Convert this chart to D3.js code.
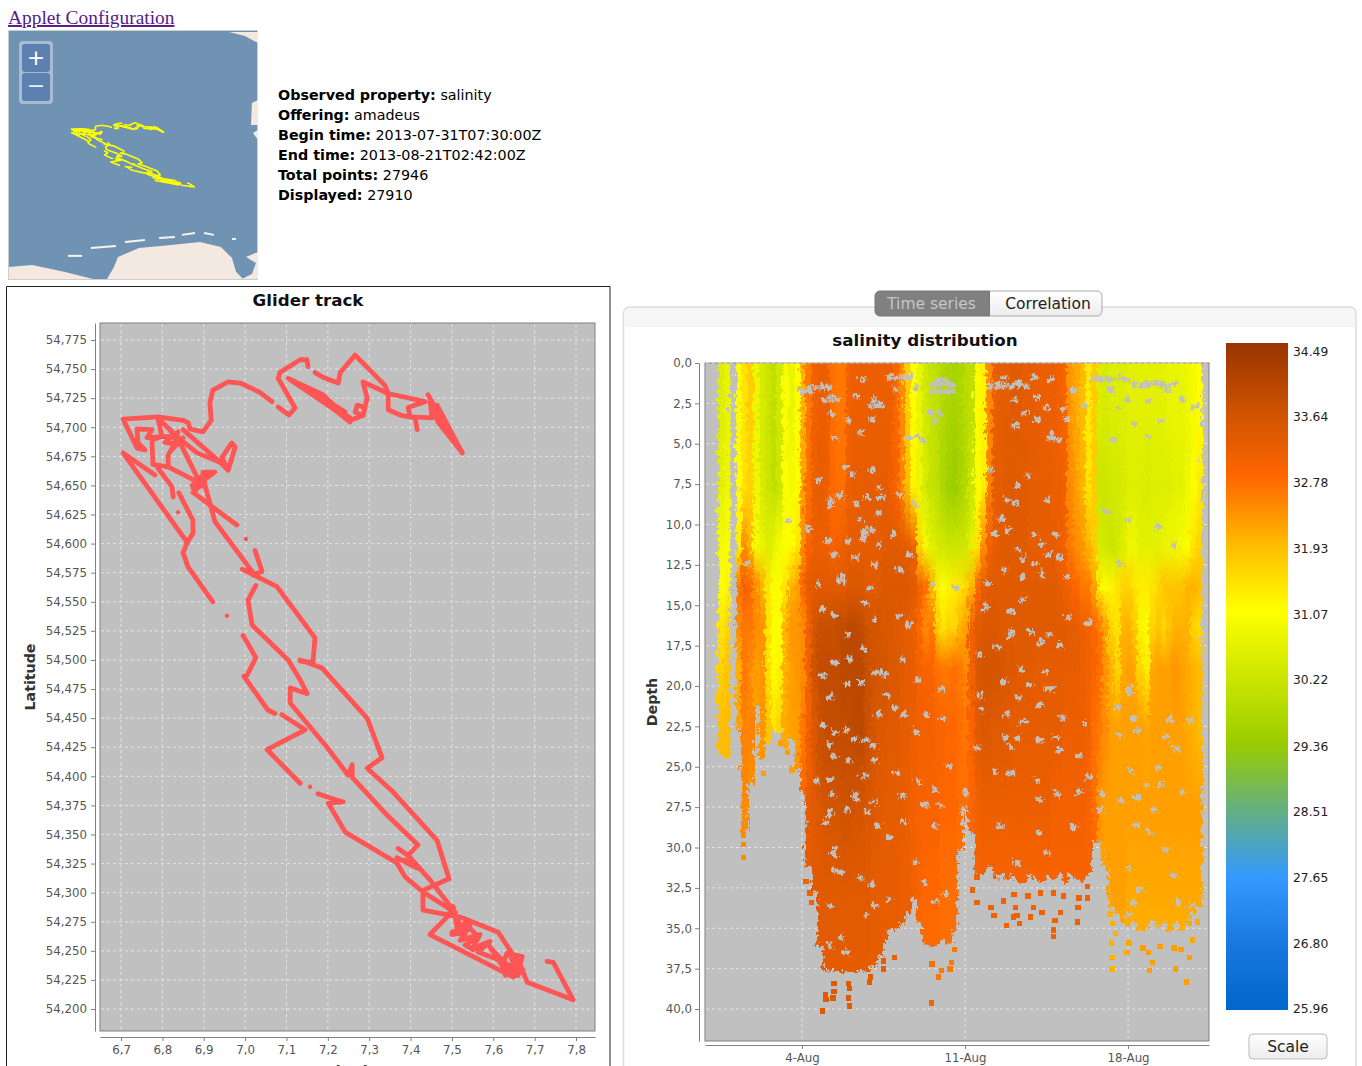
<!DOCTYPE html>
<html><head><meta charset="utf-8"><script src="https://cdn.jsdelivr.net/npm/d3@7"></script>
<style>html,body{margin:0;padding:0;background:#fff;overflow:hidden}svg{display:block;font-family:"DejaVu Sans",sans-serif}</style>
</head><body><svg id="c" width="1362" height="1066"></svg>
<script>
// ---------- metadata ----------
const infoLabels=["Observed property:","Offering:","Begin time:","End time:","Total points:","Displayed:"];
const infoValues=["salinity","amadeus","2013-07-31T07:30:00Z","2013-08-21T02:42:00Z","27946","27910"];
// ---------- glider track [lon,lat] ----------
const trackEast=[[7.525,54.678],[7.467,54.704],[7.447,54.723],[7.452,54.708],[7.399,54.709],[7.394,54.717],[7.435,54.722],[7.346,54.729],[7.338,54.736],[7.266,54.762],[7.230,54.747],[7.225,54.738],[7.188,54.743],[7.169,54.747]];
const trackWedgeEast=[[7.525,54.678],[7.464,54.719],[7.508,54.6865],[7.442,54.728],[7.483,54.702],[7.525,54.678]];
const trackLoop=[[7.416,54.698],[7.411,54.708],[7.375,54.7105],[7.346,54.715],[7.346,54.729],[7.285,54.739],[7.295,54.725],[7.285,54.710],[7.266,54.713],[7.271,54.719],[7.29,54.717],[7.285,54.710],[7.254,54.706],[7.104,54.742],[7.188,54.728],[7.254,54.706]];
const trackWedgeWest=[[7.109,54.741],[7.254,54.708],[7.133,54.736],[7.242,54.713],[7.157,54.732],[7.254,54.7045],[7.181,54.727],[7.23,54.713]];
const trackHook=[[7.152,54.752],[7.15,54.758],[7.133,54.758],[7.084,54.747],[7.08,54.742],[7.121,54.7166],[7.106,54.7105],[7.08,54.7174]];
const trackWest=[[7.065,54.722],[7.036,54.730],[6.988,54.738],[6.959,54.739],[6.922,54.732],[6.915,54.721],[6.918,54.706],[6.898,54.696],[6.867,54.6985],[6.862,54.704],[6.85,54.706],[6.789,54.709],[6.705,54.707],[6.739,54.682],[6.758,54.6805],[6.741,54.6865],[6.739,54.6985],[6.775,54.698],[6.763,54.691],[6.799,54.692],[6.835,54.692],[6.789,54.708],[6.799,54.692],[6.775,54.689],[6.777,54.668],[6.814,54.666],[6.814,54.676],[6.838,54.691],[6.884,54.678],[6.939,54.670],[6.959,54.663],[6.944,54.674],[6.968,54.6865],[6.976,54.683],[6.959,54.663]];
const trackBlobA=[[6.818,54.698],[6.843,54.685],[6.806,54.687],[6.838,54.696],[6.823,54.6805],[6.85,54.691]];
const trackBlobB=[[6.872,54.650],[6.903,54.656],[6.881,54.646],[6.915,54.661],[6.886,54.656]];
const trackWestB=[[6.85,54.698],[6.939,54.670]];
const trackWestC=[[6.835,54.692],[6.855,54.678],[6.891,54.652],[6.927,54.6615],[6.898,54.6615],[6.903,54.650],[6.874,54.648],[6.891,54.652],[6.814,54.666]];
const trackWestD=[[6.789,54.665],[6.823,54.649],[6.826,54.640]];
const trackEdge=[[6.782,54.659],[6.705,54.678],[6.86,54.601],[6.874,54.609],[6.874,54.620],[6.84,54.6435]];
const trackEdgeB=[[6.86,54.601],[6.85,54.592],[6.862,54.580],[6.922,54.550]];
const trackCross=[[6.874,54.644],[6.98,54.616]];
const trackMid=[[6.903,54.650],[6.927,54.619],[7.019,54.575],[6.993,54.578],[7.077,54.563],[7.169,54.519],[7.164,54.498],[7.133,54.499]];
const trackMidB=[[7.019,54.573],[7.041,54.576],[7.024,54.594]];
const trackInner=[[7.026,54.564],[7.007,54.5515],[7.017,54.530],[7.104,54.500],[7.133,54.483],[7.15,54.471],[7.109,54.476],[7.109,54.463],[7.198,54.425],[7.249,54.401],[7.259,54.410],[7.259,54.399],[7.338,54.3685],[7.418,54.341],[7.394,54.332],[7.37,54.338]];
const trackInnerB=[[7.394,54.332],[7.447,54.311],[7.508,54.283]];
const trackLow=[[6.995,54.521],[7.026,54.502],[7.005,54.487],[6.997,54.486],[7.055,54.457],[7.072,54.454]];
const trackLowB=[[7.089,54.453],[7.145,54.440],[7.053,54.423],[7.133,54.394]];
const trackLowC=[[7.176,54.385],[7.217,54.380],[7.237,54.378],[7.201,54.377],[7.242,54.352],[7.367,54.3255],[7.387,54.3135],[7.43,54.3006],[7.508,54.283]];
const trackShort=[[7.367,54.330],[7.416,54.321],[7.387,54.328]];
const trackOuter=[[7.133,54.500],[7.186,54.493],[7.295,54.450],[7.331,54.416],[7.295,54.407],[7.358,54.3865],[7.464,54.345],[7.493,54.312],[7.43,54.302],[7.43,54.285],[7.52,54.279],[7.612,54.266],[7.672,54.2335],[7.648,54.2275],[7.447,54.264],[7.488,54.279],[7.503,54.288],[7.515,54.265],[7.5,54.264],[7.532,54.274],[7.563,54.262],[7.532,54.255],[7.551,54.251],[7.585,54.257],[7.624,54.236],[7.658,54.229],[7.67,54.245],[7.633,54.248],[7.624,54.2395],[7.67,54.2335],[7.682,54.223],[7.793,54.208],[7.745,54.240],[7.73,54.241]];
const trackCluster=[[7.508,54.281],[7.532,54.264],[7.5,54.266],[7.544,54.272],[7.52,54.259],[7.568,54.264],[7.549,54.252],[7.592,54.258],[7.563,54.249],[7.616,54.242],[7.597,54.251],[7.641,54.235],[7.616,54.2335],[7.66,54.229],[7.641,54.246],[7.665,54.238],[7.629,54.229]];
const trackDots=[[6.838,54.627],[6.956,54.538],[7.002,54.604],[7.157,54.391]];
const trackSegments=[trackEast,trackWedgeEast,trackLoop,trackWedgeWest,trackHook,trackWest,trackBlobA,trackBlobB,trackWestB,trackWestC,trackWestD,trackEdge,trackEdgeB,trackCross,trackMid,trackMidB,trackInner,trackInnerB,trackLow,trackLowB,trackLowC,trackShort,trackOuter,trackCluster];
// ---------- mini map land [lon,lat] ----------
const landFrisia=[[7.019,53.415],[7.081,53.519],[7.117,53.605],[7.303,53.682],[7.587,53.708],[7.844,53.734],[8.03,53.691],[8.128,53.596],[8.164,53.476],[8.226,53.415]];
const landBay=[[8.252,53.605],[8.359,53.648],[8.359,53.407],[8.199,53.407],[8.305,53.458],[8.341,53.553]];
const landWest=[[6.15,53.519],[6.354,53.536],[6.638,53.476],[6.895,53.415],[6.15,53.407]];
const landNorth=[[8.101,55.544],[8.359,55.544],[8.359,55.45],[8.243,55.51]];
const landEastA=[[8.305,54.932],[8.359,54.958],[8.359,54.743],[8.297,54.743]];
const landEastB=[[8.314,54.674],[8.359,54.70],[8.359,54.613]];
const landAreas=[landFrisia,landBay,landWest,landNorth,landEastA,landEastB];
const islands=[[[6.673,53.614],[6.798,53.614]],[[6.877,53.682],[7.099,53.700]],[[7.179,53.734],[7.356,53.751]],[[7.481,53.769],[7.622,53.777]],[[7.685,53.795],[7.8,53.812]],[[7.88,53.812],[7.968,53.795]],[[8.128,53.76],[8.164,53.76]]];
// ---------- salinity field ----------
const binHours=6;
const binStartMs=Date.UTC(2013,6,31,7,30);
const depthEdges=[0,5,10,12.5,15,17.5,20,25,30,35,42];
const columnBottom=[24.0,24.4,0,22.5,29,26,21,24.4,23.5,22.7,
22.7,23.8,23.2,25.0,26.5,31,32.5,36,37.5,37.5,
37.6,37.6,37.6,37.6,37.4,37.6,37.2,36.5,35.8,35,
34.8,34.5,34,33,34.5,36,36,36,35.5,35.8,
35,30,27.5,29,31.5,31.5,31,31.8,31.5,31.8,
31.5,32,32,31.5,31.8,32,31.5,31.8,31.5,32,
31.5,31.8,32,31.5,29.5,29.5,31,33.5,34,34.5,
34.8,34.5,35,35,34.5,35,34.5,35,34.5,35,
34.5,34,33.5];
const sal0to5=[30.5,30.7,null,31.0,31.4,31.7,30.8,30.4,30.2,30.0,
30.3,31.0,30.7,31.0,32.0,32.6,33.0,33.1,33.1,32.7,
32.6,32.6,33.0,33.1,33.1,33.1,33.1,33.1,33.1,33.1,
32.8,32.4,31.7,31.1,30.7,30.3,30.1,30.0,29.8,29.7,
29.6,29.7,29.9,30.0,31.0,31.2,32.4,33.1,33.2,33.2,
33.3,33.3,33.2,33.2,33.2,33.1,33.1,33.1,33.0,32.9,
32.3,32.1,31.9,31.3,31.7,30.5,30.4,30.5,30.5,30.5,
30.6,30.6,30.6,30.6,30.6,30.6,30.6,30.7,30.7,30.7,
30.8,30.9,31.1];
const sal5to10=[30.6,30.8,null,31.1,31.4,31.6,30.8,30.4,30.2,30.0,
30.2,31.0,30.9,31.1,32.2,32.7,33.1,33.2,33.1,32.8,
32.7,32.7,33.1,33.2,33.2,33.2,33.2,33.2,33.2,33.1,
32.9,32.5,31.9,31.2,30.8,30.4,30.1,30.0,29.7,29.5,
29.4,29.6,29.8,30.2,31.0,31.3,32.5,33.2,33.2,33.3,
33.3,33.3,33.3,33.2,33.2,33.2,33.2,33.1,33.1,33.0,
32.4,32.2,32.0,31.4,31.7,30.2,30.2,30.3,30.3,30.4,
30.5,30.5,30.5,30.4,30.5,30.5,30.5,30.5,30.6,30.6,
30.8,31.0,31.3];
const sal10to12=[30.9,31.0,null,31.3,32.4,32.0,30.9,30.7,30.5,30.7,
30.9,31.0,31.1,31.4,32.4,32.9,33.1,33.1,33.1,32.9,
33.0,33.1,33.2,33.2,33.2,33.2,33.2,33.2,33.3,33.3,
33.3,33.3,33.2,33.0,31.6,30.9,30.6,30.4,30.3,30.2,
30.2,30.2,30.3,30.6,31.4,32.4,33.0,33.2,33.3,33.3,
33.3,33.3,33.3,33.2,33.2,33.2,33.2,33.2,33.1,33.0,
32.6,32.4,32.3,32.0,31.7,30.4,30.3,30.2,30.3,30.5,
30.8,30.8,30.6,30.6,30.6,30.6,30.7,30.8,30.8,30.9,
31.0,31.4,31.6];
const sal12to15=[31.0,31.2,null,32.6,33.0,32.8,32.4,32.0,31.4,31.0,
31.0,31.4,32.0,32.2,32.8,33.2,33.3,33.3,33.3,33.3,
33.3,33.3,33.4,33.4,33.4,33.3,33.3,33.3,33.4,33.4,
33.4,33.4,33.4,33.3,33.0,32.7,32.0,31.3,31.0,31.2,
31.3,31.4,31.6,32.0,32.8,33.2,33.3,33.3,33.3,33.3,
33.3,33.3,33.3,33.3,33.3,33.3,33.3,33.3,33.2,33.1,
33.0,32.8,32.6,32.6,32.2,31.3,31.0,31.2,31.4,31.6,
31.6,31.4,31.3,31.3,31.4,31.6,31.8,31.8,31.8,31.8,
32.0,32.0,31.9];
const sal15to17=[31.4,31.6,null,32.4,32.6,32.6,32.4,32.3,31.4,31.0,
31.1,32.0,32.3,32.3,32.4,33.0,33.5,33.7,33.7,33.7,
33.8,33.8,33.9,33.9,33.8,33.6,33.5,33.5,33.4,33.4,
33.3,33.3,33.2,33.1,32.8,32.4,32.6,31.8,31.4,31.6,
31.6,32.0,32.2,33.0,33.3,33.4,33.4,33.4,33.3,33.3,
33.3,33.3,33.3,33.3,33.3,33.3,33.3,33.3,33.3,33.3,
33.2,33.2,33.1,33.0,32.8,32.6,32.2,31.6,31.4,32.0,
32.0,31.7,31.2,31.0,31.6,31.8,31.5,31.8,32.0,32.0,
32.0,31.6,31.5];
const sal17to20=[31.6,31.8,null,32.0,32.6,32.4,32.2,32.3,31.5,31.1,
31.2,32.0,32.2,32.3,32.4,33.0,33.6,33.8,33.8,33.8,
33.8,33.9,33.9,33.9,33.9,33.7,33.6,33.5,33.5,33.4,
33.4,33.3,33.2,33.2,33.0,32.9,32.9,32.7,32.6,32.6,
32.7,32.6,32.4,33.0,33.4,33.5,33.5,33.5,33.5,33.4,
33.4,33.3,33.3,33.3,33.2,33.2,33.2,33.2,33.2,33.2,
33.2,33.2,33.1,33.0,32.9,32.7,32.3,32.0,31.6,32.1,
32.2,32.1,31.6,31.3,32.1,32.2,32.2,32.2,32.3,32.2,
32.1,32.0,31.9];
const sal20to25=[31.9,31.9,null,32.2,32.5,32.5,32.2,32.3,31.8,31.4,
31.6,32.1,32.2,32.2,32.6,33.0,33.4,33.7,33.8,33.8,
33.8,33.8,33.8,33.9,33.9,33.7,33.5,33.4,33.4,33.3,
33.3,33.2,33.2,33.1,33.0,33.0,33.0,32.9,32.9,32.8,
32.8,32.7,32.6,32.9,33.3,33.4,33.4,33.3,33.3,33.3,
33.2,33.2,33.2,33.2,33.2,33.2,33.2,33.2,33.2,33.1,
33.1,33.1,33.1,33.0,32.7,32.6,32.4,32.2,32.2,32.2,
32.2,32.2,32.2,32.1,32.2,32.2,32.2,32.2,32.2,32.2,
32.1,32.0,31.9];
const sal25to30=[null,null,null,null,32.4,32.3,null,null,null,null,
null,null,null,32.4,32.9,33.2,33.3,33.4,33.5,33.5,
33.5,33.6,33.6,33.5,33.5,33.4,33.4,33.3,33.2,33.2,
33.2,33.2,33.1,33.0,32.9,32.9,32.9,32.9,32.8,32.8,
32.8,32.7,32.7,32.8,33.0,33.1,33.1,33.1,33.1,33.1,
33.1,33.1,33.1,33.1,33.1,33.1,33.1,33.0,33.0,33.0,
33.0,33.0,33.0,32.9,32.7,32.3,32.2,32.2,32.2,32.2,
32.2,32.2,32.2,32.2,32.2,32.2,32.2,32.2,32.2,32.2,
32.2,32.2,32.2];
const sal30to35=[null,null,null,null,null,null,null,null,null,null,
null,null,null,null,null,33.2,33.3,33.3,33.3,33.3,
33.3,33.3,33.3,33.3,33.3,33.3,33.2,33.2,33.2,33.2,
33.2,33.1,33.1,33.0,32.9,32.8,32.8,32.8,32.7,32.7,
32.7,32.7,32.7,32.8,32.9,32.9,32.9,32.9,32.9,32.9,
32.9,32.9,32.9,32.9,32.9,32.9,32.9,32.9,32.9,32.9,
32.9,32.9,32.9,32.9,32.9,32.4,32.2,32.2,32.2,32.2,
32.1,32.1,32.1,32.1,32.1,32.1,32.1,32.1,32.1,32.1,
32.1,32.1,32.1];
const sal35to42=[null,null,null,null,null,null,null,null,null,null,
null,null,null,null,null,null,null,33.2,33.2,33.2,
33.2,33.2,33.2,33.2,33.2,33.2,33.2,33.2,33.1,33.1,
33.1,33.1,33.1,33.1,32.7,32.7,32.7,32.7,32.7,32.7,
32.7,32.8,32.8,32.8,32.8,32.8,32.8,32.8,32.8,32.8,
32.8,32.8,32.8,32.8,32.8,32.8,32.8,32.8,32.8,32.8,
32.8,32.8,32.8,32.8,32.8,32.8,32.0,32.0,32.0,32.0,
32.0,32.0,32.0,32.0,32.0,32.0,32.0,32.0,32.0,32.0,
32.0,32.0,32.0];
const salinityBands=[sal0to5,sal5to10,sal10to12,sal12to15,sal15to17,sal17to20,sal20to25,sal25to30,sal30to35,sal35to42];
// scattered deep samples: [days after 4 Aug, depth, salinity]
const strays=[[.86,40.1,33.3],[.99,39.1,33.3],[1.03,39.4,33.3],[1.37,38.4,33.3],[1.37,38.9,33.3],[1.33,39.3,33.3],[1.98,38.4,33.3],[2.02,38.7,33.3],[1.98,39.3,33.3],[2.02,39.8,33.3],[2.92,38.0,33.2],[2.88,38.3,33.2],[3.48,37.0,33.2],[3.48,37.5,33.2],[3.95,36.8,33.1],[5.54,39.6,32.9],[5.84,38.0,32.6],[5.97,37.6,32.6],[6.35,37.5,32.6],[6.40,37.1,32.6],[6.53,36.3,32.6],[5.58,37.2,32.7],[7.51,33.4,33.0],[8.11,33.7,33.0],[8.24,34.2,33.0],[8.76,34.8,33.0],[9.10,32.9,33.0],[9.15,33.7,33.0],[9.23,34.2,33.0],[9.06,34.3,33.0],[9.32,34.7,33.0],[9.79,34.3,33.0],[9.92,33.7,33.0],[10.3,34.0,33.0],[10.78,35.1,33.0],[10.78,35.5,33.0],[10.86,34.5,33.0],[11.08,34.0,33.0],[11.81,34.6,33.0],[11.85,33.7,33.0],[11.89,33.1,33.0],[11.21,33.0,33.0],[9.70,33.0,33.0],[10.22,32.8,33.0],[10.78,32.8,33.0],[8.63,33.3,33.0],[7.51,31.8,33.0],[7.30,32.6,33.0],[12.24,32.4,33.0],[12.24,33.1,33.0],[13.22,34.1,32.0],[13.35,34.7,32.0],[13.44,35.3,32.0],[13.27,35.9,32.0],[13.31,36.8,32.0],[13.31,37.5,32.0],[13.95,36.5,32.1],[14.04,35.9,32.1],[14.64,36.2,32.2],[14.86,36.5,32.2],[15.03,37.1,32.2],[14.90,37.6,32.2],[15.37,36.1,32.2],[15.97,36.2,32.2],[16.27,36.3,32.2],[16.62,36.8,32.2],[16.02,37.5,32.2],[16.49,38.3,32.2],[16.75,35.7,32.1],[16.97,34.6,32.1],[16.62,34.7,32.1],[-1.67,25.4,32.2],[-.43,25.2,32.2],[-.94,23.5,32.2],[-.64,24.1,32.2],[.17,32.1,33.0],[.34,32.8,33.0],[.39,33.4,33.0],[-2.53,29.2,32.4],[-2.53,29.8,32.4],[-2.53,30.6,32.4]];
// unsampled spots inside the field: [days after 4 Aug, depth]
const gaps=[[.2,1.35],[.5,1.35],[.8,1.35],[1.05,1.35],[.8,2.1],[1.1,2.1],[1.4,2.1],[1.2,3],[1.9,3.4],[2.8,2.5],[3.1,2.5],[3.3,2.5],[2.9,3.35],[3.6,.75],[3.9,.75],[4.2,.75],[4.5,.75],[3.9,1.55],[2.4,4.15],[1.3,4.45],[4.5,4.45],[4.8,4.45],[5.1,4.65],[5.5,1.2],[5.8,1.2],[6.1,1.2],[6.35,1.2],[5.5,1.6],[5.8,1.6],[6.1,1.6],[6.35,1.6],[5.8,.9],[6.1,.9],[4.8,1.35],[5.6,3.5],[5.8,2.9],[5.4,2.9],[-.1,1.65],[.2,1.65],[2.2,1.85],[2.5,.85],[3,2.15],
[.6,7.1],[1.1,8.35],[1.1,8.7],[1.5,8.05],[2.1,6.75],[2.9,6.5],[3.2,7.55],[2.2,8.6],[2.7,8.2],[3.3,8.2],[3.2,9.1],[2.4,9.5],[4.1,8],[4.8,8.6],[1.8,6.3],
[2.6,10.2],[2.9,10.2],[2.6,10.5],[2.5,10.8],[1,10.85],[1.9,10.85],[.2,10.2],[1.3,11.75],[3,12.4],[4.1,12.7],[1.6,13.1],[1.6,13.4],[.6,13.55],[2.2,11.9],[3.2,11.1],[3.8,10.5],[4.5,11.7],[-.7,9.7],[-2.5,12.3],[5.5,13.55],[6.5,13.75],[2.8,13.75],
[8.0,1.25],[8.3,1.25],[8.6,1.25],[8.9,1.25],[9.2,1.25],[9.5,1.25],[8.6,.75],[9.2,1.05],[9.9,.75],[10.6,.9],[10,2],[10.35,2.6],[9.5,2.9],[9,3.7],[9.1,3.7],[10,3.4],[9,2.15],[11.1,2.7],[11.25,3.35],[10.5,4.45],[10.7,4.45],[10.9,4.6],[11.55,1.55],[12.1,2.4],
[12.4,.85],[12.7,.85],[13,.85],[13.3,.85],[13.6,.85],[13.85,.85],[14.15,1.2],[14.5,1.2],[14.8,1.2],[15.1,1.2],[15.4,1.2],[15.7,1.2],[15.9,1.2],[15.6,1.55],[13.15,1.5],[13.85,2.1],[14.75,2.15],[13.45,2.7],[15.3,3.5],[14.15,3.6],[14.75,4.45],[13.25,4.6],[16.8,2.6],[16.2,2.15],
[8,6.5],[9.6,6.8],[9.2,7.4],[10.4,8.35],[9.05,8.5],[8.7,8.3],[8.45,9.5],[8.2,10.45],[8.75,10.2],[9.9,10.45],[10.8,10.5],[9.2,11.45],[9.35,12],[10.2,11.1],[10.5,11.7],[10.2,12.95],[9.35,13.1],[11.25,13.1],[10.95,11.9],[8.6,12.7],[7.9,13.55],[9.9,12.3],[13,9],[13.85,9.6],[15.2,10],[13.55,12.3],[15.9,11.1],
[.8,15.1],[1.3,15.5],[2.6,14.7],[3,15.8],[4.1,15.5],[4.5,16.1],[1.9,16.65],[2.5,17.6],[1.3,18.4],[1.9,18.2],[3,19],[3.2,19],[3.45,19.15],[4.2,18.2],[4.9,19.45],[5.9,20.05],[.8,19.2],[1.8,19.75],[3.5,20.4],[2.4,19.6],[1.1,20.55],[3.9,21.2],[3.2,21.6],[4.3,21.6],[5.2,21.6],[5.9,21.9],[.8,22.3],[1.8,22.55],[1.3,22.7],[2.6,23.15],[4.8,22.7],[2.2,23.15],[3,23.5],[1.05,23.5],[1.3,24.15],[1.9,24.4],[3,24.45],[3.95,25.2],[1.1,25.6],[.5,25.7],[2.6,25.4],[4.9,25.8],[2.2,26.85],[1.2,26.55],[3,27.05],[4.2,26.6],[1.8,27.5],[3.2,28.5],[1.1,27.85],[4.3,28.3],[5.9,27.25],[6.2,24.8],[5.6,26.25],[5.2,27.25],[.05,28.5],
[7.8,15],[9.4,14.5],[8.85,16.85],[8.85,16.5],[9.7,16.5],[10.5,16.65],[11.3,15.6],[12.2,15.9],[8.9,15.3],[10.2,17.15],[10.95,17.3],[8.3,17.45],[7.5,17.9],[9.3,18.8],[10.35,19],[8.6,19.6],[10.65,20],[10.4,20],[7.5,20.4],[9.2,20.55],[9.7,19.8],[11.1,21.8],[10.1,21.05],[8.7,21.6],[9.3,22.1],[9.5,22.1],[12.1,22.2],[7.6,21.3],[8.6,23.05],[9.2,23.05],[8.85,23.65],[10.1,23.15],[10.8,23],[7.4,23.65],[10.95,23.8],[11.75,24.15],[8.9,25.2],[10,25.7],[12.2,25.5],[8.15,25.1],[10.85,26.6],[10.1,26.85],[11.8,26.45],[14,20],[14,20.3],[13.45,21.2],[14.15,21.9],[15.7,21.9],[14.3,22.6],[13.55,22.9],[15.6,23.05],[16.55,22],[16,23.8],[14,25.1],[15.2,24.9],[14.7,26],[15.3,26],[16.2,26.45],[14.3,26.75],[13.55,26.95],[12.8,26.55],[12.7,27.55],[15,27.5],[6.9,26.45],[6.8,27.5],[6.9,28.3],[11.55,28.6],
[1.3,30],[1.3,30.3],[.9,28.3],[2.2,26.6],[3.1,28.5],[3.65,29.2],[1.1,27.55],[2.65,27.7],[1.6,31.4],[2.4,31.7],[1.35,31.3],[2.9,32.2],[1.1,35.9],[1.85,36.35],[1.6,35.4],[1.1,33.45],[2.65,34.05],[3.65,33.05],[3,33.45],[4.75,30.8],[5.65,33.25],[6.05,32.8],[5.1,32],[5.6,28.5],[10.05,28.9],[11.6,28.5],[8.4,28.5],[9.15,30.8],[10.4,30.15],[14.4,32.45],[14.15,33.25],[15,34.5],[16.1,33.25],[14.8,28.9],[15.45,30],[13.9,31.2],[15.85,31.6],[14.25,28.5],[16.6,33.45],[13.9,34.05],[15.25,34.9]];
// ---------- scale legend ----------
const scaleTicks=[34.49,33.64,32.78,31.93,31.07,30.22,29.36,28.51,27.65,26.80,25.96];
const scaleColors=["#993300","#cc5200","#ff6600","#ffb900","#ffff00","#cce600","#99cc00","#64af82","#3399ff","#1978e1","#0066cc"];
const latTicks=d3.range(0,24).map(i=>+(54.2+i*0.025).toFixed(3));
const lonTicks=[6.7,6.8,6.9,7.0,7.1,7.2,7.3,7.4,7.5,7.6,7.7,7.8];
const depthTicks=d3.range(0,17).map(i=>i*2.5);
const dateTicks=[new Date(Date.UTC(2013,7,4)),new Date(Date.UTC(2013,7,11)),new Date(Date.UTC(2013,7,18))];

const svg=d3.select("#c");
const comma=f=>v=>d3.format(f)(v).replace(".",",");
const color=d3.scaleLinear().domain(scaleTicks).range(scaleColors).clamp(true);
const MS_DAY=864e5, aug4=Date.UTC(2013,7,4);

// --- header ---
svg.append("text").attr("x",8).attr("y",24).attr("fill","#551A8B")
 .style("font-family",'"Liberation Serif",serif').style("font-size","19.4px").attr("text-decoration","underline").text("Applet Configuration");
const info=svg.append("g");
infoLabels.forEach((l,i)=>{
 const t=info.append("text").attr("x",278).attr("y",100+i*19.9).attr("fill","#000").style("font-size","14.3px");
 t.append("tspan").attr("font-weight","bold").text(l);
 t.append("tspan").text(" "+infoValues[i]);
});

// --- mini map ---
const mapX=d3.scaleLinear().domain([6.7,7.8]).range([71,195]);
const mapY=d3.scaleLinear().domain([54.76,54.208]).range([123,187]);
const defs=svg.append("defs");
defs.append("clipPath").attr("id","mapClip").append("rect").attr("x",9).attr("y",31).attr("width",249).attr("height",248);
svg.append("rect").attr("x",8.5).attr("y",30.5).attr("width",249).attr("height",249).attr("fill","#7093b3").attr("stroke","#ccc");
const mapG=svg.append("g").attr("clip-path","url(#mapClip)");
const mapLine=d3.line().x(d=>mapX(d[0])).y(d=>mapY(d[1]));
mapG.selectAll("path.land").data(landAreas).join("path").attr("class","land").attr("d",d=>mapLine(d)+"Z").attr("fill","#f3e9e1");
mapG.selectAll("path.isl").data(islands).join("path").attr("class","isl").attr("d",mapLine).attr("stroke","#f7f3ee").attr("stroke-width",2).attr("fill","none");
mapG.selectAll("path.mt").data(trackSegments).join("path").attr("class","mt").attr("d",mapLine).attr("stroke","#ffff00").attr("stroke-width",1.6).attr("fill","none").attr("stroke-linejoin","round");
svg.append("rect").attr("x",19).attr("y",41).attr("width",34).attr("height",63).attr("rx",4).attr("fill","#a9bbd0");
svg.append("rect").attr("x",22).attr("y",44).attr("width",28).attr("height",28).attr("rx",3).attr("fill","#5c80b0");
svg.append("rect").attr("x",22).attr("y",73).attr("width",28).attr("height",28).attr("rx",3).attr("fill","#5c80b0");
svg.append("text").attr("x",36).attr("y",65).attr("text-anchor","middle").attr("fill","#fff").style("font-size","22px").text("+");
svg.append("text").attr("x",36).attr("y",93).attr("text-anchor","middle").attr("fill","#e8eef5").style("font-size","22px").text("\u2212");

// --- track panel ---
svg.append("path").attr("d","M6.5 1066V286.5H610V1066").attr("fill","none").attr("stroke","#222");
svg.append("text").attr("x",308).attr("y",306).attr("text-anchor","middle").attr("font-weight","bold").style("font-size","16.7px").attr("fill","#111").text("Glider track");
const tx=d3.scaleLinear().domain([6.6492,7.8459]).range([100,595]);
const ty=d3.scaleLinear().domain([54.1811,54.7896]).range([1031,323]);
svg.append("rect").attr("x",100).attr("y",323).attr("width",495).attr("height",708).attr("fill","#c0c0c0").attr("stroke","#808080");
const tGrid=svg.append("g").attr("stroke","#e4e4e4").attr("stroke-dasharray","3,3");
tGrid.selectAll("line.v").data(lonTicks).join("line").attr("class","v").attr("x1",d=>tx(d)).attr("x2",d=>tx(d)).attr("y1",324).attr("y2",1030);
tGrid.selectAll("line.h").data(latTicks).join("line").attr("class","h").attr("y1",d=>ty(d)).attr("y2",d=>ty(d)).attr("x1",101).attr("x2",594);
const tLine=d3.line().x(d=>tx(d[0])).y(d=>ty(d[1]));
svg.append("g").selectAll("path").data(trackSegments).join("path").attr("d",tLine).attr("fill","none").attr("stroke","#ff5555").attr("stroke-width",4.8).attr("stroke-linejoin","round").attr("stroke-linecap","round");
svg.append("g").selectAll("circle").data(trackDots).join("circle").attr("cx",d=>tx(d[0])).attr("cy",d=>ty(d[1])).attr("r",2.2).attr("fill","#ff5555");
function styleAxis(g){g.selectAll("path,line").attr("stroke","#808080");g.selectAll("text").attr("fill","#555").style("font-size","11.8px").style("font-family",'"DejaVu Sans",sans-serif');}
svg.append("g").attr("transform","translate(95,0)").call(d3.axisLeft(ty).tickValues(latTicks).tickFormat(comma(".3f")).tickSize(4).tickSizeOuter(0).tickPadding(4)).call(styleAxis);
svg.append("g").attr("transform","translate(0,1037)").call(d3.axisBottom(tx).tickValues(lonTicks).tickFormat(comma(".1f")).tickSize(4).tickSizeOuter(0).tickPadding(5)).call(styleAxis);
svg.append("text").attr("transform","translate(35,677) rotate(-90)").attr("text-anchor","middle").attr("font-weight","bold").style("font-size","14.2px").attr("fill","#333").text("Latitude");
svg.append("text").attr("x",337).attr("y",1076).attr("text-anchor","middle").attr("font-weight","bold").style("font-size","14.2px").attr("fill","#333").text("Longitude");

// --- salinity panel ---
svg.append("path").attr("d","M623.5 1066V313a6 6 0 0 1 6-6H1350a6 6 0 0 1 6 6V1066").attr("fill","#fff").attr("stroke","#dcdcdc").attr("stroke-width",1.5);
svg.append("path").attr("d","M625 327V313a5 5 0 0 1 5-5H1350a5 5 0 0 1 5 5V327Z").attr("fill","#f6f6f6");
const tabG=defs.append("linearGradient").attr("id","btn").attr("x1",0).attr("x2",0).attr("y1",0).attr("y2",1);
tabG.append("stop").attr("offset",0).attr("stop-color","#ffffff");tabG.append("stop").attr("offset",1).attr("stop-color","#ececec");
svg.append("path").attr("d","M989.5 291H1097a5 5 0 0 1 5 5V311a5 5 0 0 1-5 5H989.5Z").attr("fill","url(#btn)").attr("stroke","#aaa");
svg.append("path").attr("d","M880 291H989.5V316H880a5 5 0 0 1-5-5V296a5 5 0 0 1 5-5Z").attr("fill","#808080").attr("stroke","#777");
svg.append("text").attr("x",931.5).attr("y",309).attr("text-anchor","middle").attr("fill","#c6c6c6").style("font-size","15.5px").text("Time series");
svg.append("text").attr("x",1048).attr("y",309).attr("text-anchor","middle").attr("fill","#222").style("font-size","15.5px").text("Correlation");
svg.append("text").attr("x",925).attr("y",346).attr("text-anchor","middle").attr("font-weight","bold").style("font-size","16.7px").attr("fill","#111").text("salinity distribution");

const sx=d3.scaleUtc().domain([new Date(Date.UTC(2013,6,30,20,2)),new Date(Date.UTC(2013,7,21,11,24))]).range([705,1209]);
const sy=d3.scaleLinear().domain([0,41.98]).range([363,1041]);
svg.append("rect").attr("x",705).attr("y",363).attr("width",504).attr("height",678).attr("fill","#c0c0c0").attr("stroke","#808080");
const sGrid=svg.append("g").attr("stroke","#e4e4e4").attr("stroke-dasharray","3,3");
sGrid.selectAll("line.v").data(dateTicks).join("line").attr("class","v").attr("x1",d=>sx(d)).attr("x2",d=>sx(d)).attr("y1",364).attr("y2",1040);
sGrid.selectAll("line.h").data(depthTicks).join("line").attr("class","h").attr("y1",d=>sy(d)).attr("y2",d=>sy(d)).attr("x1",706).attr("x2",1208);
// field: one rect per time column, shaded down through its depth bands
const binDate=i=>new Date(binStartMs+i*binHours*36e5);
const dayDate=d=>new Date(aug4+d*MS_DAY);
const columns=columnBottom.map((bottom,i)=>({i,bottom,stops:salinityBands.map((band,b)=>({depth:(depthEdges[b]+depthEdges[b+1])/2,v:band[i]})).filter(s=>s.v!=null)})).filter(c=>c.bottom>0&&c.stops.length);
const colGrad=defs.selectAll("linearGradient.col").data(columns).join("linearGradient").attr("class","col").attr("id",d=>"col"+d.i)
 .attr("gradientUnits","userSpaceOnUse").attr("x1",0).attr("x2",0).attr("y1",sy(0)).attr("y2",sy(41.98));
colGrad.selectAll("stop").data(d=>d.stops).join("stop").attr("offset",d=>d.depth/41.98).attr("stop-color",d=>color(d.v));
const rough=defs.append("filter").attr("id","rough").attr("filterUnits","userSpaceOnUse").attr("x",695).attr("y",350).attr("width",530).attr("height",700).attr("color-interpolation-filters","sRGB");
rough.append("feTurbulence").attr("type","turbulence").attr("baseFrequency","0.2 0.14").attr("numOctaves",2).attr("seed",4).attr("result","n");
rough.append("feDisplacementMap").attr("in","SourceGraphic").attr("in2","n").attr("scale",9).attr("xChannelSelector","R").attr("yChannelSelector","G");
defs.append("clipPath").attr("id","fieldClip").append("rect").attr("x",706).attr("y",363.5).attr("width",502).attr("height",677);
const field=svg.append("g").attr("clip-path","url(#fieldClip)").append("g").attr("filter","url(#rough)");
field.append("g").attr("shape-rendering","crispEdges").selectAll("rect").data(columns).join("rect")
 .attr("x",d=>sx(binDate(d.i))).attr("width",d=>sx(binDate(d.i+1))-sx(binDate(d.i))+.5)
 .attr("y",sy(0)-8).attr("height",d=>sy(d.bottom)-sy(0)+8).attr("fill",d=>`url(#col${d.i})`);
field.append("g").selectAll("rect").data(gaps).join("rect")
 .attr("x",d=>sx(dayDate(d[0]))-3).attr("y",d=>sy(d[1])-2.5).attr("width",6).attr("height",5).attr("fill","#c0c0c0");
// strays
svg.append("g").attr("shape-rendering","crispEdges").selectAll("rect").data(strays).join("rect")
 .attr("x",d=>sx(dayDate(d[0]))-2.5).attr("y",d=>sy(d[1])-2.5).attr("width",5.5).attr("height",5.5).attr("fill",d=>color(d[2]));
svg.append("g").attr("transform","translate(699,0)").call(d3.axisLeft(sy).tickValues(depthTicks).tickFormat(comma(".1f")).tickSize(4).tickSizeOuter(0).tickPadding(3)).call(styleAxis);
svg.append("g").attr("transform","translate(0,1045)").call(d3.axisBottom(sx).tickValues(dateTicks).tickFormat(d3.utcFormat("%-d-%b")).tickSize(4).tickSizeOuter(0).tickPadding(5)).call(styleAxis);
svg.append("text").attr("transform","translate(657,702) rotate(-90)").attr("text-anchor","middle").attr("font-weight","bold").style("font-size","14.2px").attr("fill","#333").text("Depth");

// --- legend ---
const grad=defs.append("linearGradient").attr("id","bar").attr("x1",0).attr("x2",0).attr("y1",0).attr("y2",1);
const barFrac=d3.scaleLinear().domain([34.49,25.96]).range([0,1]);
scaleTicks.forEach((t,i)=>grad.append("stop").attr("offset",barFrac(t)).attr("stop-color",scaleColors[i]));
svg.append("rect").attr("x",1226).attr("y",343).attr("width",62).attr("height",667).attr("fill","url(#bar)");
const labelY=d3.scaleLinear().domain([34.49,25.96]).range([351,1008]);
svg.append("g").selectAll("text").data(scaleTicks).join("text").attr("x",1293).attr("y",d=>labelY(d)+4.5).attr("fill","#222").style("font-size","12.3px").text(d=>d.toFixed(2));
svg.append("rect").attr("x",1249).attr("y",1034).attr("width",78).attr("height",25).attr("rx",4).attr("fill","url(#btn)").attr("stroke","#bbb");
svg.append("text").attr("x",1288).attr("y",1052).attr("text-anchor","middle").attr("fill","#222").style("font-size","15.5px").text("Scale");
</script></body></html>
